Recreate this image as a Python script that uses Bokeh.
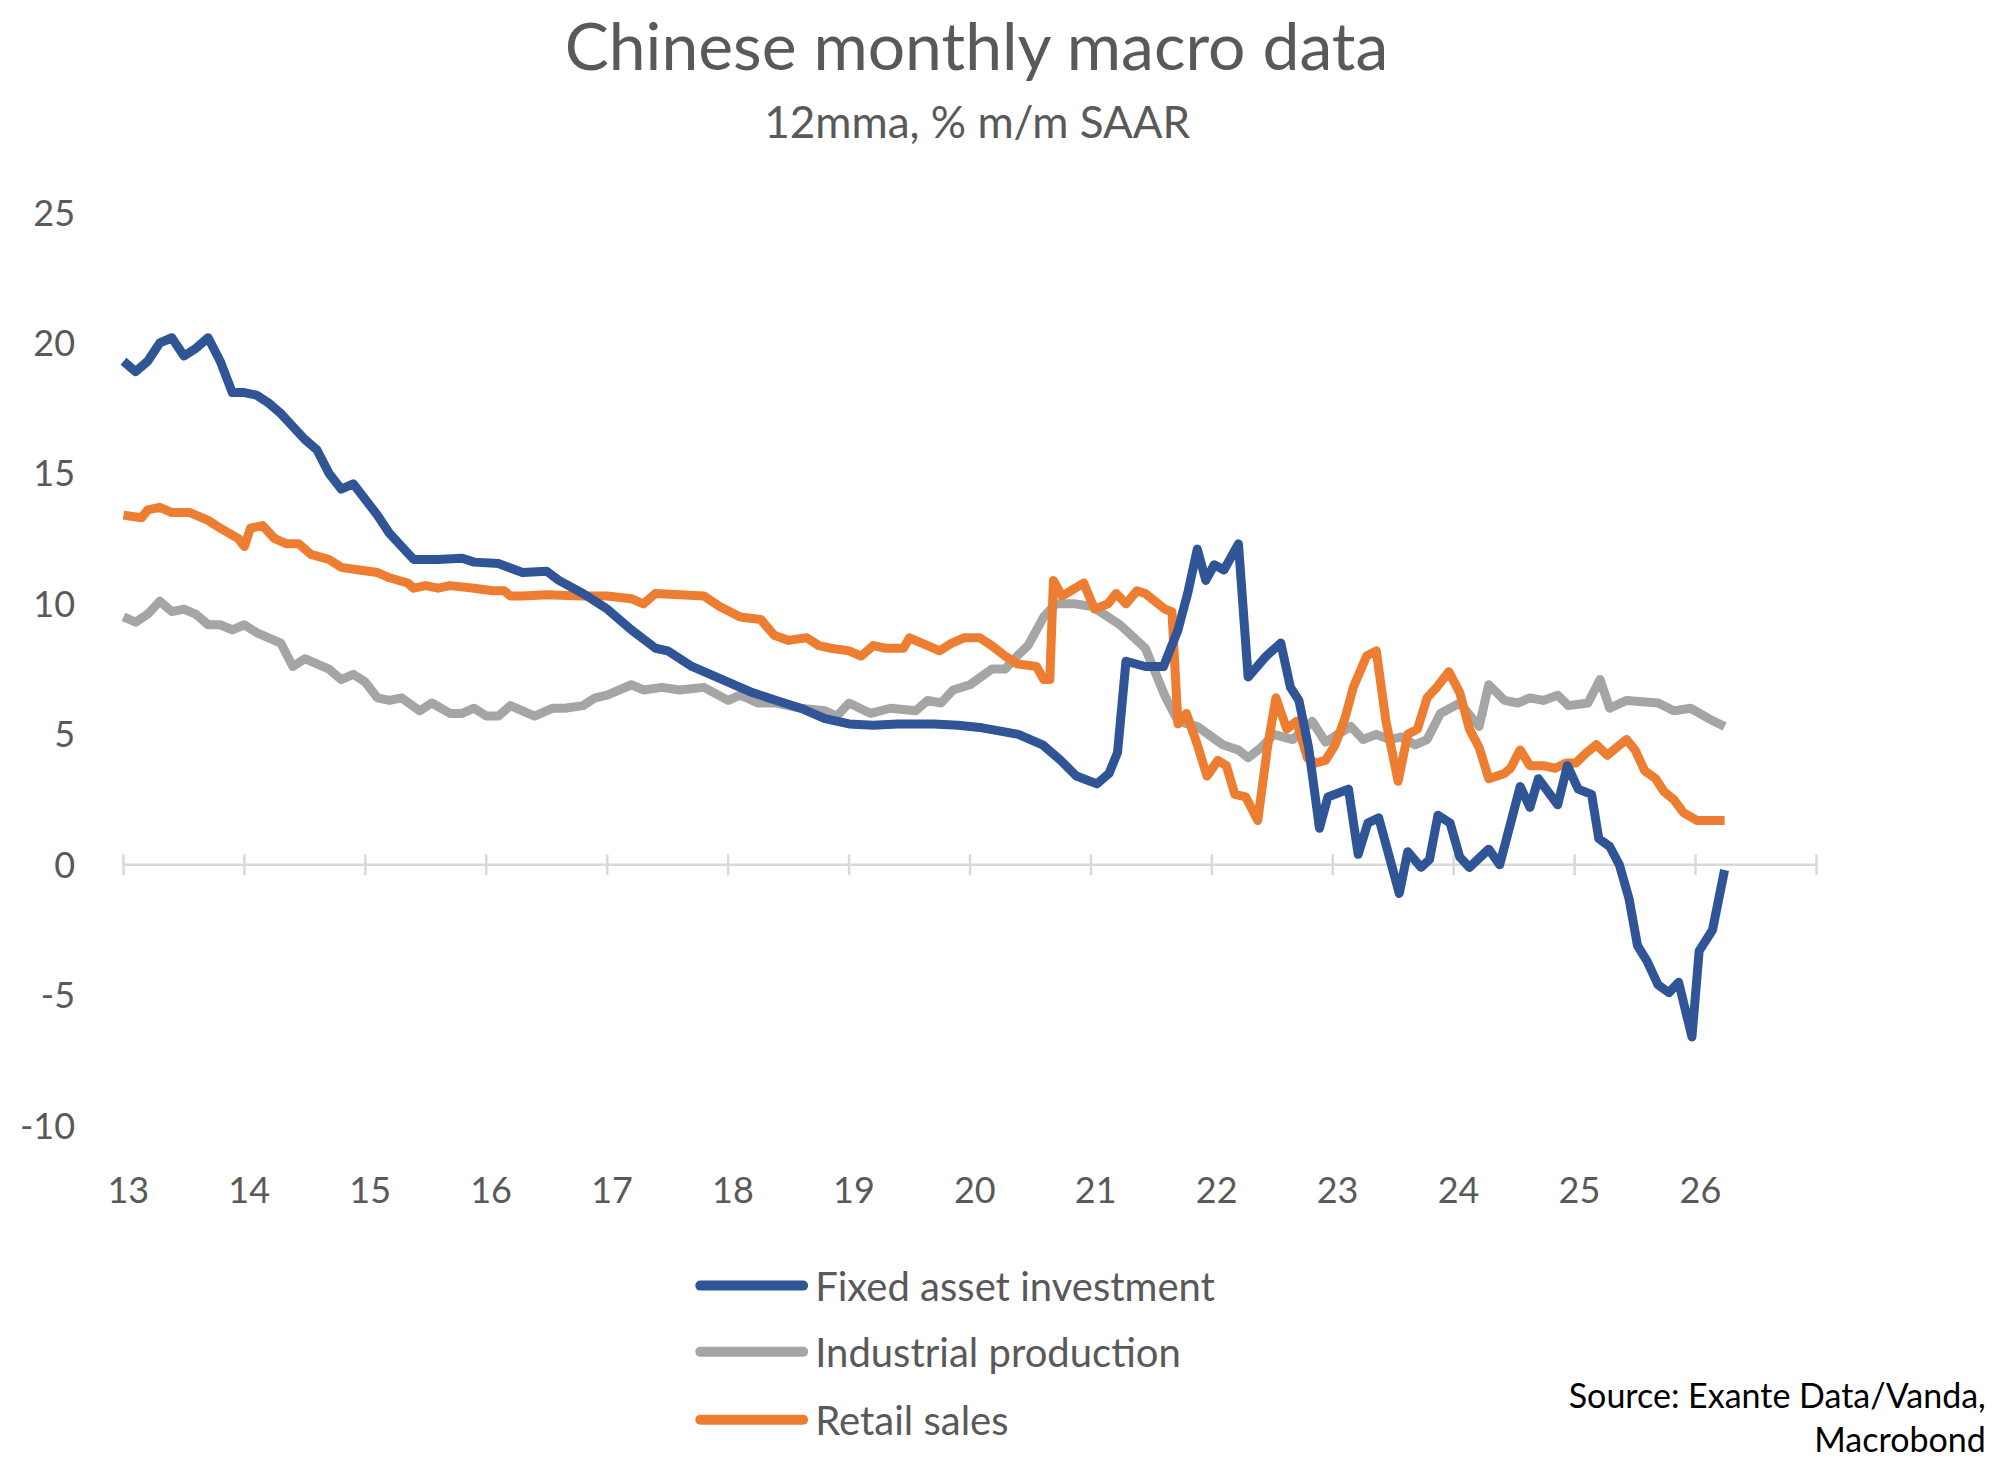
from bokeh.plotting import figure
from bokeh.core.properties import value
from bokeh.embed import file_html
from bokeh.resources import INLINE

fai_x = [13.0,13.1,13.2,13.3,13.4,13.5,13.6,13.7,13.8,13.9,14.0,14.1,14.2,14.3,14.4,14.5,14.6,14.7,14.8,14.9,15.0,15.1,15.2,15.3,15.4,15.6,15.8,15.9,16.1,16.3,16.5,16.6,16.8,17.0,17.2,17.4,17.5,17.7,17.9,18.0,18.2,18.4,18.6,18.8,19.0,19.2,19.4,19.7,19.9,20.1,20.4,20.6,20.75,20.88,21.05,21.15,21.22,21.29,21.45,21.6,21.72,21.8,21.88,21.95,22.02,22.1,22.22,22.3,22.45,22.57,22.65,22.72,22.8,22.89,22.96,23.13,23.21,23.29,23.38,23.55,23.62,23.73,23.8,23.87,23.97,24.05,24.13,24.29,24.38,24.55,24.63,24.7,24.86,24.94,25.03,25.14,25.2,25.29,25.37,25.45,25.52,25.6,25.69,25.78,25.86,25.97,26.03,26.14,26.24]
fai_y = [19.3,18.9,19.3,20.0,20.2,19.5,19.8,20.2,19.3,18.1,18.1,18.0,17.7,17.3,16.8,16.3,15.9,15.0,14.4,14.6,14.0,13.4,12.7,12.2,11.7,11.7,11.75,11.6,11.55,11.2,11.25,10.9,10.4,9.8,9.0,8.3,8.2,7.6,7.2,7.0,6.6,6.3,6.0,5.6,5.4,5.35,5.4,5.4,5.35,5.25,5.0,4.6,4.0,3.4,3.1,3.5,4.3,7.8,7.6,7.6,9.0,10.4,12.1,10.9,11.5,11.3,12.3,7.2,8.0,8.5,6.8,6.3,4.5,1.4,2.6,2.9,0.4,1.6,1.8,-1.1,0.5,-0.1,0.2,1.9,1.6,0.3,-0.1,0.6,0.0,3.0,2.2,3.3,2.3,3.8,2.9,2.7,1.0,0.7,0.0,-1.3,-3.1,-3.7,-4.6,-4.9,-4.5,-6.6,-3.3,-2.5,-0.2]
n = min(len(fai_x), len(fai_y)); fai_x = fai_x[:n]; fai_y = fai_y[-n:]

ip_x = [13.0,13.1,13.2,13.3,13.4,13.5,13.6,13.7,13.8,13.9,14.0,14.1,14.2,14.3,14.4,14.5,14.7,14.8,14.9,15.0,15.1,15.2,15.3,15.45,15.55,15.7,15.8,15.9,16.0,16.1,16.2,16.3,16.4,16.55,16.65,16.8,16.9,17.0,17.2,17.3,17.45,17.6,17.8,18.0,18.1,18.25,18.4,18.6,18.8,18.9,19.0,19.18,19.34,19.55,19.65,19.76,19.86,20.0,20.18,20.29,20.39,20.48,20.61,20.71,20.87,21.01,21.24,21.45,21.61,21.72,21.88,22.09,22.22,22.3,22.41,22.51,22.67,22.83,22.94,23.04,23.15,23.25,23.36,23.47,23.57,23.68,23.78,23.89,24.05,24.21,24.29,24.42,24.53,24.63,24.74,24.86,24.95,25.11,25.21,25.29,25.43,25.69,25.82,25.96,26.11,26.24]
ip_y = [9.5,9.7,9.2,9.6,9.5,9.3,9.6,10.1,9.7,9.8,9.6,9.2,9.2,9.0,9.2,8.9,8.7,8.5,7.6,7.9,7.5,7.1,7.3,7.0,6.4,6.3,6.4,5.9,6.2,5.8,5.8,6.0,5.7,5.7,6.1,5.9,5.7,6.0,6.0,6.1,6.4,6.5,6.9,6.7,6.8,6.7,6.8,6.3,6.5,6.2,6.2,6.0,5.9,5.7,6.2,5.8,6.0,5.9,6.3,6.2,6.7,6.9,7.5,7.5,8.0,8.4,9.5,10.0,10.0,9.9,9.2,8.3,6.5,5.5,5.3,4.6,4.4,4.1,4.5,5.0,4.8,5.5,4.7,5.0,5.3,4.8,5.0,4.8,4.9,4.6,4.8,5.8,6.2,5.3,6.9,6.3,6.2,6.4,6.3,6.5,6.1,6.2,7.1,6.0,6.3,6.2,5.9,6.0,5.6,5.3]
n = min(len(ip_x), len(ip_y)); ip_x = ip_x[:n]; ip_y = ip_y[-n:]

rs_x = [13.0,13.15,13.2,13.3,13.4,13.55,13.7,13.8,13.95,14.0,14.05,14.15,14.25,14.35,14.45,14.55,14.7,14.8,14.95,15.1,15.2,15.35,15.4,15.5,15.6,15.7,15.9,16.05,16.15,16.2,16.3,16.5,16.8,17.0,17.2,17.3,17.4,17.6,17.8,17.93,18.1,18.27,18.38,18.5,18.65,18.75,18.85,19.0,19.1,19.2,19.3,19.45,19.5,19.65,19.75,19.85,19.95,20.08,20.18,20.29,20.39,20.55,20.61,20.66,20.69,20.76,20.87,20.94,21.03,21.14,21.21,21.29,21.38,21.45,21.53,21.61,21.67,21.72,21.79,21.88,21.96,22.05,22.12,22.19,22.28,22.38,22.46,22.53,22.62,22.7,22.79,22.86,22.94,23.02,23.1,23.17,23.28,23.36,23.44,23.54,23.62,23.7,23.78,23.86,23.96,24.05,24.13,24.21,24.29,24.42,24.47,24.55,24.63,24.74,24.84,24.93,25.01,25.1,25.18,25.27,25.35,25.43,25.5,25.58,25.67,25.74,25.82,25.9,26.01,26.24]
rs_y = [13.4,13.3,13.6,13.7,13.5,13.5,13.2,12.9,12.5,12.2,12.9,13.0,12.5,12.3,12.3,11.9,11.7,11.4,11.3,11.2,11.0,10.8,10.6,10.7,10.6,10.7,10.6,10.5,10.5,10.3,10.3,10.35,10.3,10.3,10.2,10.0,10.4,10.35,10.3,9.9,9.5,9.4,8.8,8.6,8.7,8.4,8.3,8.2,8.0,8.4,8.3,8.3,8.7,8.4,8.2,8.5,8.7,8.7,8.4,8.0,7.7,7.6,7.1,7.1,10.9,10.3,10.6,10.8,9.8,10.0,10.4,10.0,10.5,10.4,10.1,9.8,9.7,5.4,5.8,4.6,3.4,4.0,3.8,2.7,2.6,1.7,4.5,6.4,5.2,5.5,4.1,3.9,4.0,4.6,5.6,6.8,8.0,8.2,5.5,3.2,5.0,5.2,6.4,6.8,7.4,6.6,5.2,4.5,3.3,3.5,3.7,4.4,3.8,3.8,3.7,3.9,3.9,4.3,4.6,4.2,4.5,4.8,4.4,3.6,3.3,2.8,2.5,2.0,1.7,1.7]
n = min(len(rs_x), len(rs_y)); rs_x = rs_x[:n]; rs_y = rs_y[:n]

year_ticks = list(range(13, 28))
x_labels = [str(y) for y in range(13, 27)]
y_ticks = [-10, -5, 0, 5, 10, 15, 20, 25]
y_labels = ["-10", "-5", "0", "5", "10", "15", "20", "25"]
series_names = ["Fixed asset investment", "Industrial production", "Retail sales"]

BLUE, GREY, ORANGE, TXT = "#2F5597", "#A5A5A5", "#ED7D31", "#595959"
FONT = value("Lato")

p = figure(width=1990, height=1458, x_range=(11.983, 28.439), y_range=(-22.756, 33.126),
           output_backend="svg", toolbar_location=None,
           min_border_left=0, min_border_right=0, min_border_top=0, min_border_bottom=0)
p.axis.visible = False
p.grid.visible = False
p.outline_line_color = None

# zero line and year ticks
p.segment(x0=[13], x1=[27], y0=[0], y1=[0], line_color="#D9D9D9", line_width=2.5)
p.segment(x0=year_ticks, x1=year_ticks, y0=[-0.4]*len(year_ticks), y1=[0.4]*len(year_ticks),
          line_color="#D9D9D9", line_width=2.5)

# tick labels
p.text(x=[12.6]*len(y_ticks), y=y_ticks, text=y_labels, text_align="right", text_baseline="middle",
       text_font=FONT, text_font_size="36px", text_color=TXT)
p.text(x=[t + 0.04 for t in range(13, 27)], y=[-12.45]*14, text=x_labels, text_align="center",
       text_baseline="middle", text_font=FONT, text_font_size="36px", text_color=TXT)

p.line(ip_x, ip_y, line_color=GREY, line_width=9, line_join="round")
p.line(rs_x, rs_y, line_color=ORANGE, line_width=9, line_join="round")
p.line(fai_x, fai_y, line_color=BLUE, line_width=9, line_join="round")

# legend
leg_y = [-16.13, -18.66, -21.27]
p.segment(x0=[17.77]*3, x1=[18.62]*3, y0=leg_y, y1=leg_y, line_color=[BLUE, GREY, ORANGE],
          line_width=10, line_cap="round")
p.text(x=[18.72]*3, y=leg_y, text=series_names, text_align="left", text_baseline="middle",
       text_font=FONT, text_font_size="40px", text_color=TXT)

# titles and source
p.text(x=[20.06], y=[31.45], text=["Chinese monthly macro data"], text_align="center",
       text_baseline="middle", text_font=FONT, text_font_size="66px", text_color=TXT)
p.text(x=[20.06], y=[28.5], text=["12mma, % m/m SAAR"], text_align="center",
       text_baseline="middle", text_font=FONT, text_font_size="44px", text_color=TXT)
p.text(x=[28.4, 28.4], y=[-20.3, -22.0], text=["Source: Exante Data/Vanda,", "Macrobond"],
       text_align="right", text_baseline="middle", text_font=FONT, text_font_size="34px",
       text_color="black")

open("out.html", "w").write(file_html(p, INLINE))
